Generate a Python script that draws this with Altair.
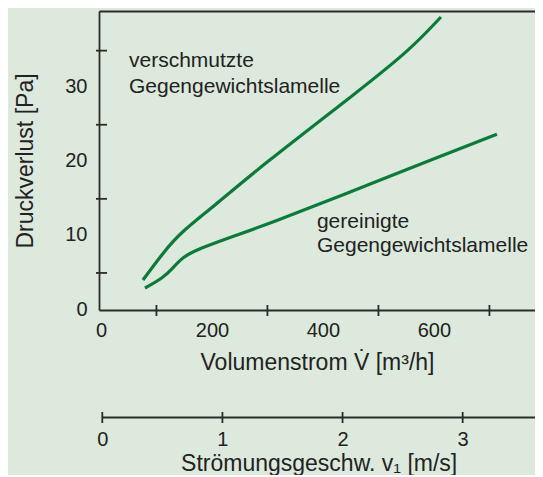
import altair as alt
import pandas as pd

# ---- data ----
V_dirty = [75.7, 111.7, 142.3, 201.8, 286.5, 466.7, 556.8, 612.6]
P_dirty = [4.05, 7.69, 10.39, 13.90, 19.30, 29.69, 35.09, 39.54]
V_clean = [79.3, 111.7, 129.7, 147.7, 173.0, 232.4, 308.1, 436.0, 587.4, 713.5]
P_clean = [2.97, 4.32, 5.67, 7.15, 8.16, 9.78, 11.79, 15.52, 20.04, 23.71]

x_label_values = [0, 200, 400, 600]
x_tick_values = [100, 300, 500, 700]
y_label_values = [0, 10, 20, 30]
y_tick_values = [5, 15, 25, 35]
v_values = [0, 1, 2, 3]

note_text = ["verschmutzte", "Gegengewichtslamelle", "gereinigte", "Gegengewichtslamelle"]
note_V = [50.5, 50.5, 389.2, 389.2]
note_P = [32.8, 29.3, 11.1, 7.8]

# ---- styling ----
GREEN = "#0c7a3a"
BG = "#dde9dc"
INK = "#222222"
AX = "#2b2b2b"
FONT = "Liberation Sans"
W, H = 436, 299

curves = pd.DataFrame({
    "V": V_dirty + V_clean,
    "p": P_dirty + P_clean,
    "kurve": ["verschmutzt"] * len(V_dirty) + ["gereinigt"] * len(V_clean),
})
notes = pd.DataFrame({"V": note_V, "p": note_P, "t": note_text})
xticks = pd.DataFrame({"V": x_tick_values})
yticks = pd.DataFrame({"p": y_tick_values})
vticks = pd.DataFrame({"v": v_values})

xs = alt.Scale(domain=[-3.5, 782.1], nice=False, zero=False)
ys = alt.Scale(domain=[0, 40.35], nice=False)

xaxis = alt.Axis(values=x_label_values, ticks=False, grid=False,
                 domainColor=AX, domainWidth=1.8,
                 labelFontSize=20, labelColor=INK, labelPadding=10,
                 labelFlush=False, labelOverlap=False, labelFont=FONT,
                 title="Volumenstrom V̇ [m³/h]", titleFontSize=23,
                 titleFontWeight="normal", titleColor=INK, titleFont=FONT,
                 titlePadding=11)
yaxis = alt.Axis(values=y_label_values, ticks=False, grid=False,
                 domainColor=AX, domainWidth=1.8,
                 labelFontSize=20, labelColor=INK, labelPadding=12,
                 labelOffset=-1, labelFlush=False, labelOverlap=False, labelFont=FONT,
                 title="Druckverlust [Pa]", titleFontSize=23,
                 titleFontWeight="normal", titleColor=INK, titleFont=FONT,
                 titlePadding=27)

X = alt.X("V:Q", scale=xs, axis=xaxis)
Y = alt.Y("p:Q", scale=ys, axis=yaxis)

lines = alt.Chart(curves).mark_line(
    color=GREEN, strokeWidth=3.2, interpolate="basis"
).encode(x=X, y=Y, detail="kurve:N")

texts = alt.Chart(notes).mark_text(
    align="left", baseline="alphabetic", fontSize=21, font=FONT, color=INK
).encode(x=X, y=Y, text="t:N")

ytick_marks = alt.Chart(yticks).mark_rule(color=AX, strokeWidth=1.8).encode(
    y=Y, x=alt.value(-3), x2=alt.value(8))
xtick_marks = alt.Chart(xticks).mark_rule(color=AX, strokeWidth=1.8).encode(
    x=X, y=alt.value(H - 5), y2=alt.value(H + 6))

main = alt.layer(lines, texts, ytick_marks, xtick_marks)

vaxis = alt.Axis(orient="bottom", offset=107, values=v_values, ticks=False,
                 grid=False, domainColor=AX, domainWidth=1.8,
                 labelFontSize=20, labelColor=INK, labelPadding=12,
                 labelFlush=False, labelOverlap=False, labelFont=FONT,
                 title="Strömungsgeschw. v₁ [m/s]", titleFontSize=23,
                 titleFontWeight="normal", titleColor=INK, titleFont=FONT,
                 titlePadding=3)
second = alt.Chart(vticks).mark_rule(color=AX, strokeWidth=1.8).encode(
    x=alt.X("v:Q", scale=alt.Scale(domain=[0, 3.602], range=[3.3, W], nice=False),
            axis=vaxis),
    y=alt.value(H + 107 - 5), y2=alt.value(H + 107 + 6))

topaxis = alt.Axis(orient="top", labels=False, ticks=False, grid=False,
                   domainColor=AX, domainWidth=1.8, title=None)
frame = alt.Chart(xticks).mark_point(opacity=0).encode(
    x=alt.X("V:Q", scale=xs, axis=topaxis), y=alt.value(0))

chart = alt.layer(main, second, frame).resolve_scale(x="independent").properties(
    width=W, height=H, background=BG,
    autosize=alt.AutoSizeParams(type="none"),
    padding={"left": 91, "top": 3, "right": 0, "bottom": 165},
).configure_view(strokeWidth=0)

chart.save("out.html", embed_options={"renderer": "svg", "actions": False})
